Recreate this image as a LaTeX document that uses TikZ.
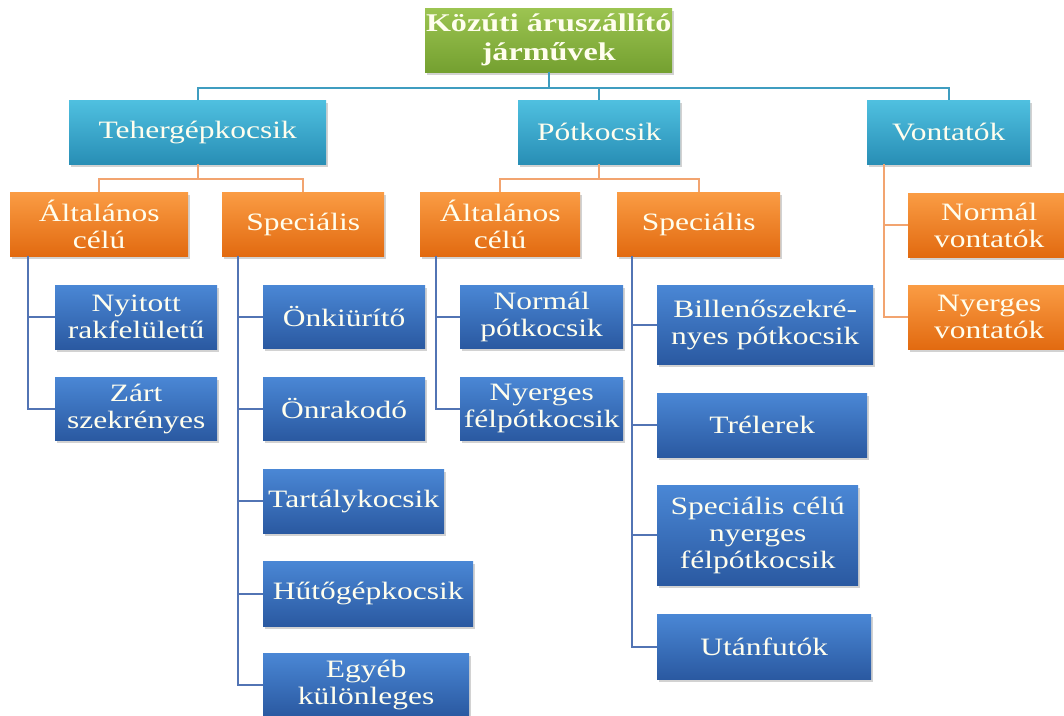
\documentclass[tikz,border=0pt]{standalone}
\usepackage{fontspec}
\setmainfont{Liberation Serif}[FakeStretch=1.26]
\usetikzlibrary{shadows}
\definecolor{txt}{RGB}{255,254,238}
\definecolor{gTop}{HTML}{9CC451}
\definecolor{gBot}{HTML}{74A030}
\definecolor{tTop}{HTML}{4FC0E0}
\definecolor{tBot}{HTML}{288EB5}
\definecolor{oTop}{HTML}{FA9C44}
\definecolor{oBot}{HTML}{E26A10}
\definecolor{bTop}{HTML}{4A87D5}
\definecolor{bBot}{HTML}{2A59A1}
\definecolor{lnT}{HTML}{3F9DC0}
\definecolor{lnO}{HTML}{F2A470}
\definecolor{lnB}{HTML}{5274B4}
\tikzset{
  box/.style={anchor=north west, inner sep=0pt, align=center, text=txt,
    font=\fontsize{25}{27}\selectfont,
    drop shadow={opacity=0.35, shadow xshift=2pt, shadow yshift=-3pt}},
  gbox/.style={box, top color=gTop, bottom color=gBot, font=\fontsize{25.5}{29}\selectfont\bfseries},
  tbox/.style={box, top color=tTop, bottom color=tBot},
  obox/.style={box, top color=oTop, bottom color=oBot},
  bbox/.style={box, top color=bTop, bottom color=bBot},
  lt/.style={draw=lnT, line width=2pt},
  lo/.style={draw=lnO, line width=2pt},
  lb/.style={draw=lnB, line width=2pt},
}
\begin{document}
\begin{tikzpicture}[x=1pt,y=-1pt]
\clip (0,0) rectangle (1064,715);
\fill[white] (0,0) rectangle (1064,715);
% level 0
\node[gbox, minimum width=247pt, minimum height=64pt] (root) at (425,8) {Közúti áruszállító\\járművek};
% level 1
\node[tbox, minimum width=257pt, minimum height=64pt] (teher) at (69,100) {Tehergépkocsik};
\node[tbox, minimum width=162pt, minimum height=64pt] (pot) at (518,100) {Pótkocsik};
\node[tbox, minimum width=163pt, minimum height=64pt] (vont) at (867,100) {Vontatók};
% level 2
\node[obox, minimum width=178pt, minimum height=64pt] (tal) at (10,192) {Általános\\célú};
\node[obox, minimum width=162pt, minimum height=64pt] (tspec) at (222,192) {Speciális};
\node[obox, minimum width=160pt, minimum height=64pt] (pal) at (420,192) {Általános\\célú};
\node[obox, minimum width=163pt, minimum height=64pt] (pspec) at (617,192) {Speciális};
\node[obox, minimum width=162pt, minimum height=64pt] (nv) at (908,193) {Normál\\vontatók};
\node[obox, minimum width=162pt, minimum height=64pt] (nyv) at (908,285) {Nyerges\\vontatók};
% level 3
\node[bbox, minimum width=162pt, minimum height=64pt] (nyit) at (55,285) {Nyitott\\rakfelületű};
\node[bbox, minimum width=162pt, minimum height=63pt] (zart) at (55,377) {Zárt\\szekrényes};
\node[bbox, minimum width=162pt, minimum height=63pt] (onki) at (263,285) {Önkiürítő};
\node[bbox, minimum width=162pt, minimum height=63pt] (onr) at (263,377) {Önrakodó};
\node[bbox, minimum width=181pt, minimum height=64pt] (tart) at (263,469) {Tartálykocsik};
\node[bbox, minimum width=210pt, minimum height=65pt] (hut) at (263,561) {Hűtőgépkocsik};
\node[bbox, minimum width=206pt, minimum height=63pt] (egy) at (263,653) {Egyéb\\különleges};
\node[bbox, minimum width=163pt, minimum height=63pt] (np) at (460,285) {Normál\\pótkocsik};
\node[bbox, minimum width=163pt, minimum height=63pt] (nyf) at (460,377) {Nyerges\\félpótkocsik};
\node[bbox, minimum width=216pt, minimum height=79pt] (bill) at (657,285) {Billenőszekré-\\nyes pótkocsik};
\node[bbox, minimum width=210pt, minimum height=64pt] (trel) at (657,393) {Trélerek};
\node[bbox, minimum width=201pt, minimum height=100pt] (spc) at (657,485) {Speciális célú\\nyerges\\félpótkocsik};
\node[bbox, minimum width=214pt, minimum height=65pt] (utan) at (657,614) {Utánfutók};
% connectors level 0 -> 1
\draw[lt] (root.south) -- ++(0,16);
\draw[lt] (teher.north) -- ++(0,-12) -| (vont.north);
\draw[lt] (pot.north) -- ++(0,-12);
% level 1 -> 2
\draw[lo] (teher.south) -- ++(0,15);
\draw[lo] (tal.north) -- ++(0,-13) -| (tspec.north);
\draw[lo] (pot.south) -- ++(0,15);
\draw[lo] (pal.north) -- ++(0,-13) -| (pspec.north);
\draw[lo] ([xshift=17pt]vont.south west) |- (nv.west);
\draw[lo] ([xshift=17pt]vont.south west) |- (nyv.west);
% level 2 -> 3
\draw[lb] ([xshift=18pt]tal.south west) |- (nyit.west);
\draw[lb] ([xshift=18pt]tal.south west) |- (zart.west);
\foreach \n in {onki,onr,tart,hut,egy}
  \draw[lb] ([xshift=16pt]tspec.south west) |- (\n.west);
\foreach \n in {np,nyf}
  \draw[lb] ([xshift=16pt]pal.south west) |- (\n.west);
\foreach \n in {bill,trel,spc,utan}
  \draw[lb] ([xshift=15pt]pspec.south west) |- (\n.west);
\end{tikzpicture}
\end{document}
